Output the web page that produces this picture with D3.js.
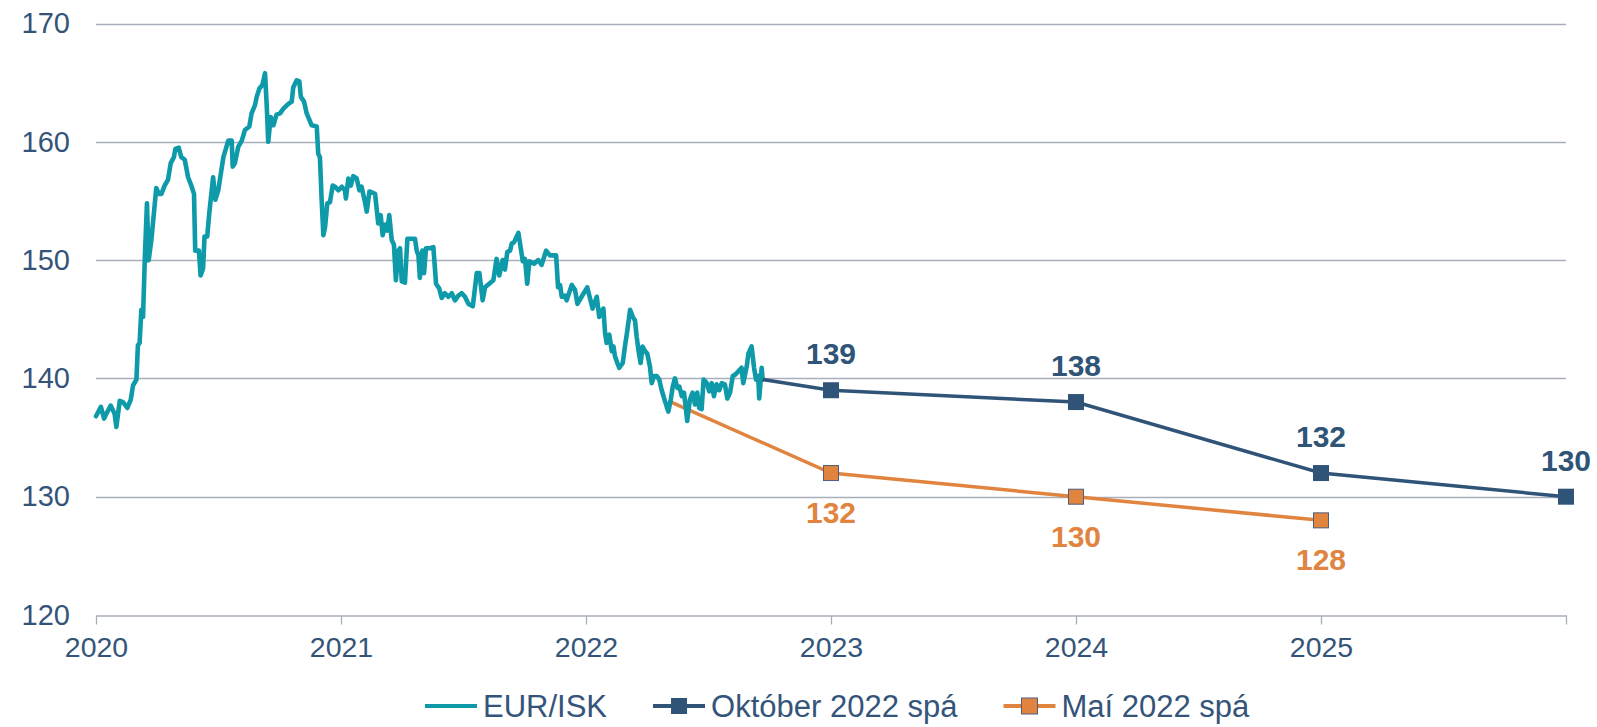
<!DOCTYPE html>
<html>
<head>
<meta charset="utf-8">
<script src="https://cdn.jsdelivr.net/npm/d3@7"></script>
<style>
  body { margin: 0; background: #fff; }
  svg { display: block; font-family: Arial, "Liberation Sans", sans-serif; }
</style>
</head>
<body>
<script>
// EUR/ISK daily rate (time as decimal year)
var eurT = [2020.000,2020.020,2020.033,2020.042,2020.060,2020.076,2020.083,2020.097,2020.110,2020.128,2020.142,2020.151,2020.165,2020.171,2020.178,2020.185,2020.192,2020.199,2020.208,2020.215,2020.226,2020.236,2020.246,2020.256,2020.267,2020.280,2020.294,2020.305,2020.318,2020.324,2020.338,2020.348,2020.362,2020.376,2020.389,2020.400,2020.405,2020.420,2020.427,2020.437,2020.443,2020.454,2020.462,2020.478,2020.487,
  2020.499,2020.520,2020.540,2020.554,2020.558,2020.567,2020.581,2020.595,2020.608,2020.626,2020.635,2020.649,2020.656,2020.667,2020.679,2020.690,2020.697,2020.703,2020.713,2020.724,2020.737,2020.751,2020.765,2020.785,2020.799,2020.805,2020.819,2020.830,2020.836,2020.849,2020.860,2020.880,2020.901,2020.907,2020.914,2020.921,2020.928,2020.935,2020.944,2020.955,2020.966,2020.976,2020.989,
  2021.003,2021.016,2021.020,2021.030,2021.040,2021.050,2021.064,2021.075,2021.084,2021.098,2021.105,2021.116,2021.139,2021.152,2021.162,2021.170,2021.180,2021.189,2021.197,2021.207,2021.216,2021.224,2021.234,2021.241,2021.248,2021.261,2021.271,2021.302,2021.309,2021.316,2021.322,2021.332,2021.339,2021.347,2021.363,2021.377,2021.388,2021.401,2021.411,2021.424,2021.438,2021.452,2021.465,2021.479,2021.493,2021.506,2021.520,2021.538,2021.554,2021.565,2021.578,2021.588,2021.605,2021.622,2021.635,2021.646,2021.660,2021.669,2021.679,2021.690,2021.697,2021.706,2021.724,2021.733,2021.742,2021.751,2021.760,2021.769,2021.788,2021.805,2021.819,2021.837,2021.853,2021.878,2021.886,2021.894,2021.901,2021.914,2021.921,2021.942,2021.955,2021.965,2021.982,
  2022.005,2022.027,2022.044,2022.054,2022.071,2022.078,2022.084,2022.095,2022.105,2022.112,2022.118,2022.128,2022.136,2022.150,2022.159,2022.169,2022.180,2022.191,2022.200,2022.207,2022.214,2022.223,2022.231,2022.241,2022.250,2022.261,2022.268,2022.278,2022.289,2022.299,2022.309,2022.322,2022.336,2022.346,2022.354,2022.363,2022.373,2022.381,2022.391,2022.400,2022.408,2022.413,2022.424,2022.435,2022.445,2022.454,2022.462,2022.472,2022.480,2022.493,2022.503,2022.513,2022.522,2022.533,2022.544,2022.554,2022.567,2022.577,2022.588,2022.599,2022.608,2022.622,2022.635,2022.642,2022.656,2022.663,2022.676,2022.686,2022.694,2022.703,2022.707,2022.717,2022.721];
var eurV = [136.8,137.6,136.6,137.0,137.7,137.0,135.9,138.1,138.0,137.5,138.2,139.4,139.9,142.8,143.0,145.8,145.2,150.0,154.8,150.0,151.7,153.9,156.1,155.6,155.6,156.3,156.8,158.2,158.7,159.4,159.5,158.7,158.5,157.0,156.3,155.6,150.8,150.8,148.7,149.3,152.0,152.0,153.9,157.0,155.1,
  155.9,158.7,160.1,160.1,157.9,158.2,159.6,160.1,161.0,161.3,162.4,163.1,163.8,164.5,164.8,165.8,163.0,160.0,162.1,161.4,162.3,162.4,162.8,163.2,163.4,164.6,165.2,165.1,163.8,163.4,162.4,161.4,161.3,159.0,158.7,155.1,152.1,152.8,154.8,154.9,156.3,156.2,155.9,
  156.2,155.9,155.2,156.9,156.3,157.1,156.9,155.9,156.2,154.9,154.1,155.8,155.6,153.1,153.8,152.1,153.0,152.5,153.8,151.7,151.3,148.3,150.8,151.0,148.2,148.1,151.8,151.8,150.8,150.4,148.5,150.8,148.9,151.0,151.0,151.1,148.0,147.6,146.8,147.2,146.9,147.2,146.6,147.0,147.2,146.9,146.3,146.1,148.9,148.9,146.6,147.7,148.0,148.3,150.1,148.7,150.0,149.2,150.7,150.8,151.4,151.5,152.3,151.1,149.9,150.1,148.0,149.9,149.7,150.0,149.6,150.8,150.4,150.4,147.7,147.9,146.9,147.0,146.6,147.9,147.5,146.3,146.9,
  147.7,145.9,146.9,145.2,145.9,143.8,143.0,143.7,142.3,142.7,141.9,141.3,140.9,141.3,142.7,144.1,145.8,145.2,144.9,143.5,142.4,141.3,142.7,142.3,142.1,141.0,139.6,140.2,140.2,139.9,139.0,138.1,137.2,138.2,139.3,140.0,139.2,139.3,138.5,138.8,137.4,136.4,138.2,138.8,137.8,138.8,137.5,137.4,139.9,139.6,138.9,139.6,138.5,139.5,139.0,139.6,139.5,138.3,138.8,140.2,140.3,140.6,140.9,139.6,141.0,142.1,142.7,140.9,139.9,140.2,138.3,140.9,139.9];

// October 2022 forecast
var oktT = [2022.721, 2023, 2024, 2025, 2026];
var oktV = [139.9, 139, 138, 132, 130];
// May 2022 forecast
var maiT = [2022.336, 2023, 2024, 2025];
var maiV = [138.1, 132, 130, 128];

var yTicks = [120, 130, 140, 150, 160, 170];
var xTicks = [2020, 2021, 2022, 2023, 2024, 2025, 2026];
var xTickLabels = ["2020", "2021", "2022", "2023", "2024", "2025", ""];
var seriesNames = ["EUR/ISK", "Október 2022 spá", "Maí 2022 spá"];

var width = 1597, height = 727;
var margin = {top: 23.5, right: 31, bottom: 112, left: 96};

var teal = "#0e9aa9", navy = "#2f5478", orange = "#e0843f",
    grid = "#a9aebb", textCol = "#34547a";

var svg = d3.select("body").append("svg")
    .attr("width", width)
    .attr("height", height);

var x = d3.scaleLinear()
    .domain([2020, 2026])
    .range([margin.left, width - margin.right]);

var y = d3.scaleLinear()
    .domain([120, 170])
    .range([height - margin.bottom, margin.top]);

// gridlines
svg.append("g")
  .selectAll("line")
  .data(yTicks.slice(1))
  .enter().append("line")
    .attr("x1", x(2020)).attr("x2", x(2026))
    .attr("y1", function(d) { return Math.round(y(d)) + 0.5; })
    .attr("y2", function(d) { return Math.round(y(d)) + 0.5; })
    .attr("stroke", grid)
    .attr("stroke-width", 1.3);

// y axis labels
var yAxis = d3.axisLeft(y).tickValues(yTicks).tickSize(0).tickPadding(26);
svg.append("g")
    .attr("transform", "translate(" + margin.left + ",0)")
    .call(yAxis)
    .call(function(g) {
      g.select(".domain").remove();
      g.selectAll("text").attr("fill", textCol).attr("font-size", 29)
        .attr("font-family", "Arial, 'Liberation Sans', sans-serif");
    });

// x axis
var xAxis = d3.axisBottom(x)
    .tickValues(xTicks)
    .tickFormat(function(d, i) { return xTickLabels[i]; })
    .tickSize(9)
    .tickSizeOuter(0)
    .tickPadding(12);
svg.append("g")
    .attr("transform", "translate(0," + (Math.round(y(120)) + 0.5) + ")")
    .call(xAxis)
    .call(function(g) {
      g.select(".domain").attr("stroke", grid).attr("stroke-width", 1.3);
      g.selectAll(".tick line").attr("stroke", grid).attr("stroke-width", 1.3);
      g.selectAll("text").attr("fill", textCol).attr("font-size", 28.5)
        .attr("font-family", "Arial, 'Liberation Sans', sans-serif");
    });

var line = d3.line()
    .x(function(d) { return x(d[0]); })
    .y(function(d) { return y(d[1]); });

var eur = d3.zip(eurT, eurV);
var okt = d3.zip(oktT, oktV);
var mai = d3.zip(maiT, maiV);

// May forecast
svg.append("path")
    .datum(mai)
    .attr("d", line)
    .attr("fill", "none")
    .attr("stroke", orange)
    .attr("stroke-width", 3.5);

// EUR/ISK
svg.append("path")
    .datum(eur)
    .attr("d", line)
    .attr("fill", "none")
    .attr("stroke", teal)
    .attr("stroke-width", 4.6)
    .attr("stroke-linejoin", "round")
    .attr("stroke-linecap", "round");

// October forecast
svg.append("path")
    .datum(okt)
    .attr("d", line)
    .attr("fill", "none")
    .attr("stroke", navy)
    .attr("stroke-width", 3.5);

var ms = 16;
svg.append("g")
  .selectAll("rect")
  .data(mai.slice(1))
  .enter().append("rect")
    .attr("x", function(d) { return x(d[0]) - ms / 2 + 0.5; })
    .attr("y", function(d) { return y(d[1]) - ms / 2 + 0.5; })
    .attr("width", ms - 1).attr("height", ms - 1)
    .attr("fill", orange)
    .attr("stroke", "#4d5f7a")
    .attr("stroke-width", 1);

svg.append("g")
  .selectAll("rect")
  .data(okt.slice(1))
  .enter().append("rect")
    .attr("x", function(d) { return x(d[0]) - ms / 2; })
    .attr("y", function(d) { return y(d[1]) - ms / 2; })
    .attr("width", ms).attr("height", ms)
    .attr("fill", navy);

// data labels
svg.append("g")
  .selectAll("text")
  .data(okt.slice(1))
  .enter().append("text")
    .attr("x", function(d) { return x(d[0]); })
    .attr("y", function(d) { return y(d[1]) - 26; })
    .attr("text-anchor", "middle")
    .attr("font-size", 30)
    .attr("font-weight", "bold")
    .attr("fill", navy)
    .text(function(d) { return d[1]; });

svg.append("g")
  .selectAll("text")
  .data(mai.slice(1))
  .enter().append("text")
    .attr("x", function(d) { return x(d[0]); })
    .attr("y", function(d) { return y(d[1]) + 50; })
    .attr("text-anchor", "middle")
    .attr("font-size", 30)
    .attr("font-weight", "bold")
    .attr("fill", orange)
    .text(function(d) { return d[1]; });

// legend
var legend = svg.append("g").attr("transform", "translate(425,706)");
var lx = 0;
var colors = [teal, navy, orange];
seriesNames.forEach(function(name, i) {
  var g = legend.append("g").attr("transform", "translate(" + lx + ",0)");
  g.append("line")
    .attr("x1", 0).attr("x2", 52)
    .attr("y1", 0).attr("y2", 0)
    .attr("stroke", colors[i])
    .attr("stroke-width", 4);
  if (i > 0) {
    g.append("rect")
      .attr("x", 26 - ms / 2).attr("y", -ms / 2)
      .attr("width", ms).attr("height", ms)
      .attr("fill", colors[i])
      .attr("stroke", i == 2 ? "#4d5f7a" : "none");
  }
  var t = g.append("text")
    .attr("x", 58)
    .attr("dy", "0.35em")
    .attr("font-size", 31)
    .attr("fill", textCol)
    .text(name);
  lx += 58 + t.node().getComputedTextLength() + 46;
});
</script>
</body>
</html>
